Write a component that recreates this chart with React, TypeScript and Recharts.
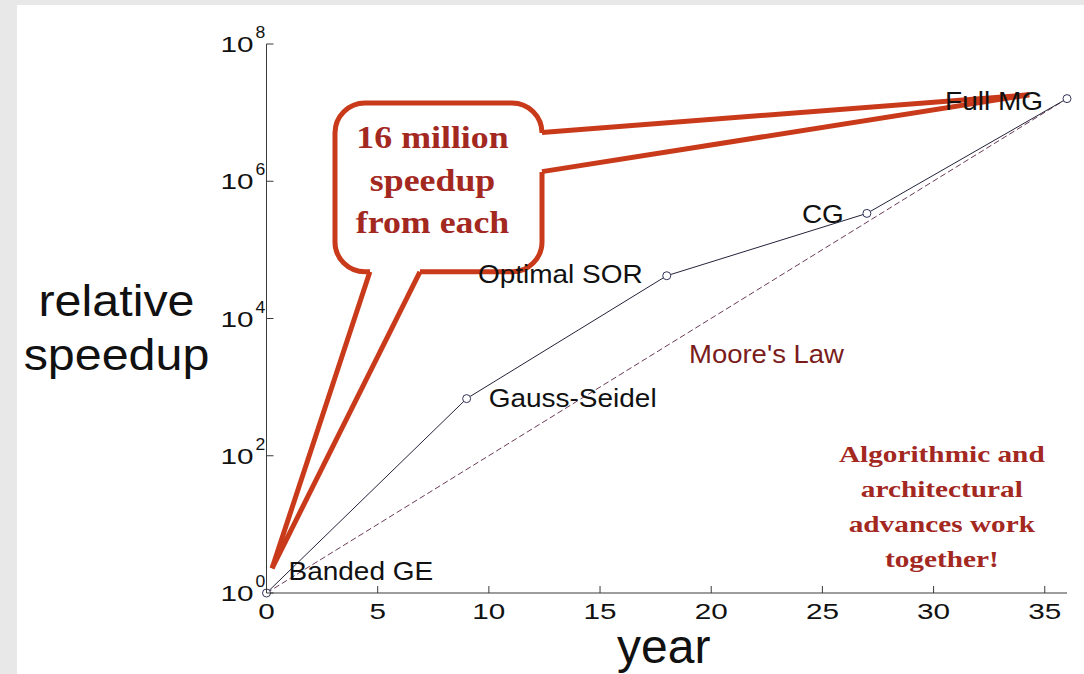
import {
  ComposedChart,
  Line,
  XAxis,
  YAxis,
  LabelList,
  ReferenceArea,
  ReferenceLine,
  ReferenceDot,
} from 'recharts';

const years = [0, 9, 18, 27, 36];
const methods = ['Banded GE', 'Gauss-Seidel', 'Optimal SOR', 'CG', 'Full MG'];
const speedups = [1, 680, 42000, 340000, 16000000];

const mooreYears = [0, 36];
const mooreSpeedups = [1, 16000000];

const xTicks = [0, 5, 10, 15, 20, 25, 30, 35];
const yTicks = [1, 1e2, 1e4, 1e6, 1e8];
const yInnerTicks = [1e2, 1e4, 1e6];

const calloutLines = ['16 million', 'speedup', 'from each'];
const noteLines = ['Algorithmic and', 'architectural', 'advances work', 'together!'];

const algData = years.map((year, i) => ({ year, speedup: speedups[i], method: methods[i] }));
const mooreData = mooreYears.map((year, i) => ({ year, speedup: mooreSpeedups[i] }));

// label placement relative to each marker (px)
const LABEL_OFFSETS = [
  { dx: 22, dy: -13, anchor: 'start' },
  { dx: 22, dy: 8, anchor: 'start' },
  { dx: -24, dy: 7, anchor: 'end' },
  { dx: -23, dy: 10, anchor: 'end' },
  { dx: -24, dy: 11, anchor: 'end' },
];

const SANS = "'Liberation Sans', Arial, Helvetica, sans-serif";
const SERIF = "'Liberation Serif', 'Times New Roman', serif";
const RED = '#c93a1b';
const DARK_RED = '#a3281f';
const AXIS = '#3a3a3a';

// callout bubble, in data units
const bubble = { x1: 3.08, x2: 12.39, y1: Math.pow(10, 4.68), y2: Math.pow(10, 7.14) };
const tipRight = { x: 34.3, y: Math.pow(10, 7.26) };
const tipLeft = { x: 0.25, y: Math.pow(10, 0.36) };

function SText({ x, y, sx = 1, anchor = 'start', size, fill = '#111', weight = 'normal', family = SANS, children }: any) {
  return (
    <text
      transform={`translate(${x} ${y}) scale(${sx} 1)`}
      textAnchor={anchor}
      fontSize={size}
      fill={fill}
      fontWeight={weight}
      fontFamily={family}
    >
      {children}
    </text>
  );
}

function BottomTick({ x, y, payload }: any) {
  return (
    <g>
      <line x1={x} x2={x} y1={y} y2={y - 7} stroke={AXIS} />
      <SText x={x} y={y + 26} sx={1.35} anchor="middle" size={22}>
        {payload.value}
      </SText>
    </g>
  );
}

function TopTick({ x, y }: any) {
  return <line x1={x} x2={x} y1={y} y2={y + 7} stroke={AXIS} />;
}

function LeftTick({ x, y, payload }: any) {
  const exp = Math.round(Math.log10(payload.value));
  return (
    <g>
      <line x1={x} x2={x + 7} y1={y} y2={y} stroke={AXIS} />
      <SText x={x - 13} y={y + 8} sx={1.35} anchor="end" size={22}>
        10
      </SText>
      <SText x={x - 11} y={y - 6} sx={1.1} size={16}>
        {exp}
      </SText>
    </g>
  );
}

function RightTick({ x, y }: any) {
  return <line x1={x} x2={x - 7} y1={y} y2={y} stroke={AXIS} />;
}

function MethodLabel({ x, y, value, index }: any) {
  const o = LABEL_OFFSETS[index];
  return (
    <SText x={x + o.dx} y={y + o.dy} sx={1.12} anchor={o.anchor} size={25}>
      {value}
    </SText>
  );
}

function Bubble({ x, y, width: w, height: h }: any) {
  const r = 30;
  const d = [
    `M ${x + r} ${y}`,
    `L ${x + w - r} ${y}`,
    `A ${r} ${r} 0 0 1 ${x + w} ${y + r}`,
    `M ${x + w} ${y + 69}`,
    `L ${x + w} ${y + h - r}`,
    `A ${r} ${r} 0 0 1 ${x + w - r} ${y + h}`,
    `L ${x + 85} ${y + h}`,
    `M ${x + 35} ${y + h}`,
    `L ${x + r} ${y + h}`,
    `A ${r} ${r} 0 0 1 ${x} ${y + h - r}`,
    `L ${x} ${y + r}`,
    `A ${r} ${r} 0 0 1 ${x + r} ${y}`,
  ].join(' ');
  const cx = x + w / 2 - 6;
  return (
    <g>
      <rect x={x} y={y} width={w} height={h} rx={r} fill="#fff" />
      <path d={d} fill="none" stroke={RED} strokeWidth={5} strokeLinejoin="round" />
      {calloutLines.map((t, i) => (
        <SText key={t} x={cx} y={y + 45 + i * 42.5} sx={1.12} anchor="middle" size={32} weight="bold" family={SERIF} fill={DARK_RED}>
          {t}
        </SText>
      ))}
    </g>
  );
}

function MooreLabel({ cx, cy }: any) {
  return (
    <SText x={cx} y={cy} sx={1.1} size={25} fill="#7a1c1c">
      Moore's Law
    </SText>
  );
}

function NoteLabel({ cx, cy }: any) {
  return (
    <g>
      {noteLines.map((t, i) => (
        <SText key={t} x={cx} y={cy + i * 35} sx={1.22} anchor="middle" size={24} weight="bold" family={SERIF} fill={DARK_RED}>
          {t}
        </SText>
      ))}
    </g>
  );
}

function YLabel({ viewBox }: any) {
  const x = viewBox.x - 90;
  return (
    <g>
      <SText x={x} y={316} sx={1.1} anchor="middle" size={44}>
        relative
      </SText>
      <SText x={x} y={370} sx={1.1} anchor="middle" size={44}>
        speedup
      </SText>
    </g>
  );
}

function XLabel({ viewBox }: any) {
  return (
    <SText x={viewBox.x + viewBox.width / 2 - 3} y={663} anchor="middle" size={48}>
      year
    </SText>
  );
}

export default function App() {
  return (
    <div style={{ position: 'absolute', left: 0, top: 0, width: 1084, height: 674, background: '#e8e8e8', overflow: 'hidden' }}>
      <div style={{ position: 'absolute', left: 17, top: 5, right: 0, bottom: 0, background: '#fff' }} />
      <div style={{ position: 'absolute', left: 0, top: 0 }}>
        <ComposedChart width={1084} height={674} margin={{ top: 44, right: 17, bottom: 51, left: 206.5 }}>
          <XAxis
            dataKey="year"
            type="number"
            domain={[0, 36]}
            ticks={xTicks}
            interval={0}
            tickSize={0}
            tickMargin={0}
            tick={<BottomTick />}
            tickLine={false}
            axisLine={{ stroke: AXIS }}
            height={30}
            label={<XLabel />}
          />
          <XAxis
            xAxisId="top"
            orientation="top"
            type="number"
            domain={[0, 36]}
            ticks={xTicks}
            interval={0}
            tickSize={0}
            tickMargin={0}
            tick={<TopTick />}
            tickLine={false}
            axisLine={{ stroke: AXIS }}
            height={0}
          />
          <YAxis
            type="number"
            scale="log"
            domain={[1, 1e8]}
            ticks={yTicks}
            interval={0}
            tickSize={0}
            tickMargin={0}
            tick={<LeftTick />}
            tickLine={false}
            axisLine={{ stroke: AXIS }}
            width={60}
            label={<YLabel />}
          />
          <YAxis
            yAxisId="right"
            orientation="right"
            type="number"
            scale="log"
            domain={[1, 1e8]}
            ticks={yInnerTicks}
            interval={0}
            tickSize={0}
            tickMargin={0}
            tick={<RightTick />}
            tickLine={false}
            axisLine={{ stroke: AXIS }}
            width={0}
          />
          <Line
            data={mooreData}
            dataKey="speedup"
            stroke="#6b3a58"
            strokeWidth={1}
            strokeDasharray="6 3"
            dot={false}
            isAnimationActive={false}
          />
          <Line
            data={algData}
            dataKey="speedup"
            stroke="#23233a"
            strokeWidth={1}
            dot={{ r: 4, fill: '#fff', stroke: '#33335a', strokeWidth: 1 }}
            isAnimationActive={false}
          >
            <LabelList dataKey="method" content={<MethodLabel />} />
          </Line>
          <ReferenceDot x={19} y={Math.pow(10, 3.35)} shape={<MooreLabel />} />
          <ReferenceDot x={30.37} y={Math.pow(10, 1.91)} shape={<NoteLabel />} />
          <ReferenceArea x1={bubble.x1} x2={bubble.x2} y1={bubble.y1} y2={bubble.y2} shape={<Bubble />} />
          <ReferenceLine segment={[{ x: bubble.x2, y: Math.pow(10, 6.71) }, tipRight]} stroke={RED} strokeWidth={5} />
          <ReferenceLine segment={[{ x: bubble.x2, y: Math.pow(10, 6.14) }, tipRight]} stroke={RED} strokeWidth={5} />
          <ReferenceLine segment={[{ x: 4.65, y: bubble.y1 }, tipLeft]} stroke={RED} strokeWidth={5} />
          <ReferenceLine segment={[{ x: 6.9, y: bubble.y1 }, tipLeft]} stroke={RED} strokeWidth={5} />
        </ComposedChart>
      </div>
    </div>
  );
}
